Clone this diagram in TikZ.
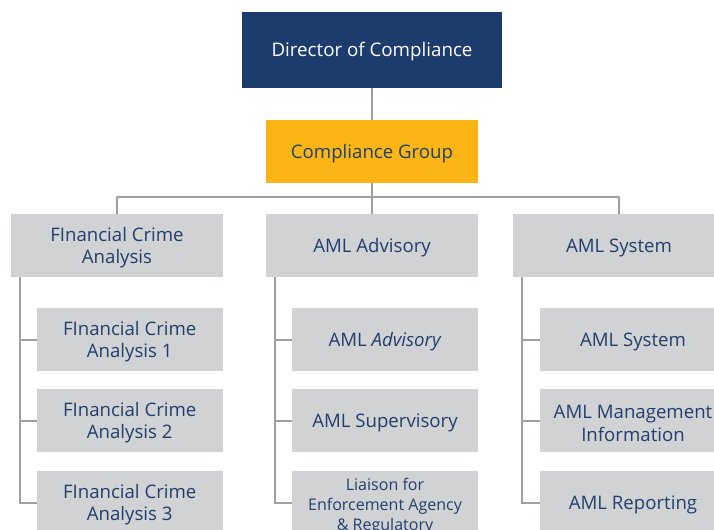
\documentclass[tikz,border=0pt]{standalone}
\usepackage{fontspec}
\setmainfont{Open Sans}
\definecolor{navy}{HTML}{1C3C6D}
\definecolor{txtnavy}{HTML}{213F6E}
\definecolor{gold}{HTML}{FBB615}
\definecolor{boxgray}{HTML}{D1D2D4}
\definecolor{linegray}{HTML}{9FA0A3}
\newcommand{\firstln}{\rule{0pt}{19bp}}
\begin{document}
\begin{tikzpicture}[x=1bp,y=-1bp,
  base/.style={rectangle, inner sep=0pt, align=center, font=\fontsize{18.7}{22.3}\selectfont,
    execute at begin node={\rule{0pt}{17.6bp}}},
  topbox/.style={base, fill=navy, text=white, minimum width=260bp, minimum height=76bp, font=\fontsize{18.8}{22.3}\selectfont},
  groupbox/.style={base, fill=gold, text=txtnavy, minimum width=212bp, minimum height=63bp},
  deptbox/.style={base, fill=boxgray, text=txtnavy, minimum width=212bp, minimum height=63bp},
  subbox/.style={base, fill=boxgray, text=txtnavy, minimum width=186bp, minimum height=63bp},
  conn/.style={draw=linegray, line width=2bp}
]
\useasboundingbox (0,0) rectangle (714,530);
\clip (0,0) rectangle (714,530);

\node[topbox] (dir) at (372,50) {Director of Compliance};
\node[groupbox] (cg) at (372,151.5) {Compliance Group};

\node[deptbox] (fca) at (117,245.5) {\firstln FInancial Crime\\Analysis};
\node[deptbox] (adv) at (372,245.5) {AML Advisory};
\node[deptbox] (sys) at (619,245.5) {AML System};

\node[subbox] (fca1) at (129.7,339.5) {\firstln FInancial Crime\\Analysis 1};
\node[subbox] (fca2) at (129.7,420.5) {\firstln FInancial Crime\\Analysis 2};
\node[subbox] (fca3) at (129.7,502.5) {\firstln FInancial Crime\\Analysis 3};

\node[subbox] (adv1) at (385,339.5) {AML \textit{Advisory}};
\node[subbox] (adv2) at (385,420.5) {AML Supervisory};
\node[subbox, anchor=north, font=\fontsize{16.1}{20}\selectfont, text depth=0pt,
  execute at begin node={}] (adv3) at (385,471) {\rule{0pt}{15.5bp}Liaison for\\Enforcement Agency\\\& Regulatory};

\node[subbox] (sys1) at (633,339.5) {AML System};
\node[subbox] (sys2) at (633,420.5) {\firstln AML Management\\Information};
\node[subbox] (sys3) at (633,502.5) {AML Reporting};

\coordinate (bar) at (372,197.5);

\draw[conn] (dir.south) -- (cg.north);
\draw[conn] (cg.south) -- (bar);
\draw[conn] (fca.north) -- (fca.north |- bar) -- (sys.north |- bar) -- (sys.north);
\draw[conn] (bar) -- (adv.north);

\foreach \p/\c in {fca/fca1, fca/fca2, fca/fca3, adv/adv1, adv/adv2, sys/sys1, sys/sys2, sys/sys3}{
  \draw[conn] ([xshift=9bp]\p.south west) |- (\c.west);
}
\draw[conn] ([xshift=9bp]adv.south west) |- (adv3.west |- fca3.west);
\end{tikzpicture}
\end{document}
